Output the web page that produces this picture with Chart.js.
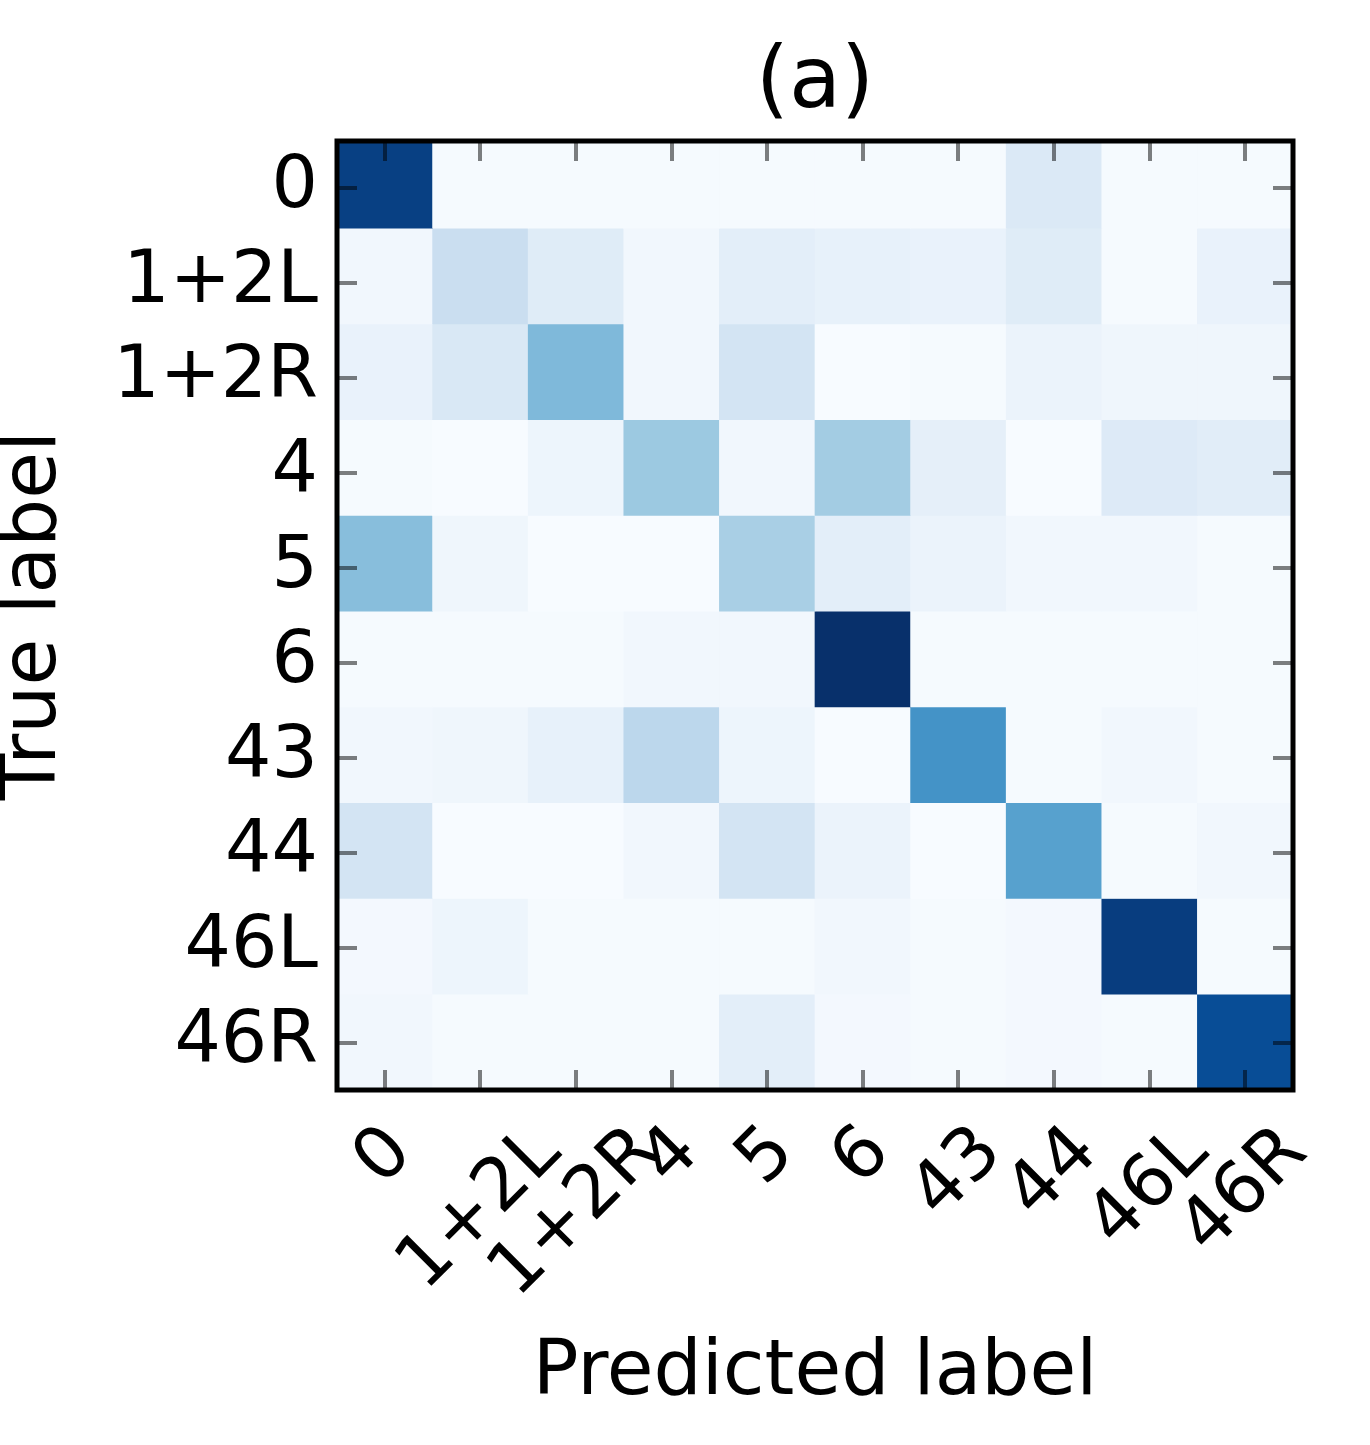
<!DOCTYPE html>
<html>
<head>
<meta charset="utf-8">
<script src="https://cdn.jsdelivr.net/npm/chart.js@4.4.1/dist/chart.umd.min.js"></script>
<style>
  html, body { margin: 0; padding: 0; background: #fff; }
  #wrap { width: 1370px; height: 1445px; position: relative; }
</style>
</head>
<body>
<div id="wrap"><canvas id="cm"></canvas></div>
<script>
// categories
const predLabels = ['0', '1+2L', '1+2R', '4', '5', '6', '43', '44', '46L', '46R'];
const trueLabels = ['0', '1+2L', '1+2R', '4', '5', '6', '43', '44', '46L', '46R'];

// normalised confusion values, one array per true label
const true0   = [0.94, 0.01, 0.01, 0.01, 0.01, 0.01, 0.01, 0.14, 0.01, 0.01];
const true12L = [0.03, 0.23, 0.12, 0.03, 0.10, 0.08, 0.07, 0.12, 0.01, 0.07];
const true12R = [0.07, 0.15, 0.45, 0.03, 0.18, 0.00, 0.01, 0.06, 0.04, 0.04];
const true4   = [0.01, 0.00, 0.05, 0.38, 0.03, 0.36, 0.09, 0.00, 0.13, 0.11];
const true5   = [0.43, 0.04, 0.00, 0.00, 0.34, 0.10, 0.06, 0.03, 0.03, 0.01];
const true6   = [0.01, 0.01, 0.01, 0.03, 0.03, 1.00, 0.01, 0.01, 0.01, 0.01];
const true43  = [0.03, 0.04, 0.08, 0.28, 0.05, 0.00, 0.62, 0.01, 0.03, 0.01];
const true44  = [0.18, 0.00, 0.00, 0.03, 0.18, 0.06, 0.00, 0.56, 0.01, 0.03];
const true46L = [0.02, 0.05, 0.01, 0.01, 0.01, 0.03, 0.01, 0.02, 0.95, 0.01];
const true46R = [0.03, 0.01, 0.01, 0.01, 0.10, 0.02, 0.01, 0.02, 0.01, 0.89];

const rows = [true0, true12L, true12R, true4, true5, true6, true43, true44, true46L, true46R];

// the top row of the image is cut a little by the axes frame in the original
const Y_TOP = 0.09;

// matplotlib "Blues"
const blues = [
  [247, 251, 255], [222, 235, 247], [198, 219, 239], [158, 202, 225], [107, 174, 214],
  [66, 146, 198], [33, 113, 181], [8, 81, 156], [8, 48, 107]
];
function bluesColor(v) {
  v = Math.max(0, Math.min(1, v));
  const p = v * (blues.length - 1);
  const i = Math.min(Math.floor(p), blues.length - 2);
  const t = p - i;
  const c = blues[i].map((a, k) => Math.round(a + (blues[i + 1][k] - a) * t));
  return 'rgb(' + c.join(',') + ')';
}

const FONT = 'DejaVu Sans';
const TICK_SIZE = 73;

// inward ticks on all four sides, the frame, and centred 45 degree x labels
const axesDecor = {
  id: 'axesDecor',
  afterDraw(chart) {
    const {ctx, chartArea: a, scales} = chart;
    const xs = scales.x, ys = scales.y;
    const len = 20;
    ctx.save();
    ctx.strokeStyle = 'rgba(0,0,0,0.5)';
    ctx.lineWidth = 4;
    ctx.beginPath();
    xs.ticks.forEach((t, i) => {
      const px = Math.round(xs.getPixelForTick(i));
      ctx.moveTo(px, a.top); ctx.lineTo(px, a.top + len);
      ctx.moveTo(px, a.bottom); ctx.lineTo(px, a.bottom - len);
    });
    ys.ticks.forEach((t, i) => {
      const py = Math.round(ys.getPixelForTick(i));
      ctx.moveTo(a.left, py); ctx.lineTo(a.left + len, py);
      ctx.moveTo(a.right, py); ctx.lineTo(a.right - len, py);
    });
    ctx.stroke();

    ctx.strokeStyle = '#000';
    ctx.lineWidth = 5;
    ctx.strokeRect(a.left, a.top, a.right - a.left, a.bottom - a.top);

    ctx.fillStyle = '#000';
    ctx.font = TICK_SIZE + 'px "' + FONT + '"';
    ctx.textAlign = 'center';
    ctx.textBaseline = 'middle';
    const h = TICK_SIZE * 0.97;
    predLabels.forEach((lab, i) => {
      const px = xs.getPixelForTick(i);
      const w = ctx.measureText(lab).width;
      const d = (w + h) * Math.SQRT1_2;
      ctx.save();
      ctx.translate(px, a.bottom + 26 + d / 2);
      ctx.rotate(-Math.PI / 4);
      ctx.fillText(lab, 0, 0);
      ctx.restore();
    });
    ctx.restore();
  }
};

new Chart(document.getElementById('cm'), {
  type: 'bar',
  data: {
    labels: predLabels,
    datasets: rows.map((r, i) => ({
      label: trueLabels[i],
      data: predLabels.map(() => 1),
      backgroundColor: r.map(bluesColor),
      borderWidth: 0,
      barPercentage: 1,
      categoryPercentage: 1,
      clip: 0
    }))
  },
  options: {
    responsive: true,
    maintainAspectRatio: false,
    animation: false,
    layout: { padding: { right: 77, left: 0, top: 0, bottom: 0 } },
    plugins: {
      legend: { display: false },
      tooltip: { enabled: false },
      title: {
        display: true,
        text: '(a)',
        fullSize: false,
        color: '#000',
        font: { family: FONT, size: 85, weight: 'normal', lineHeight: 1 },
        padding: { top: 42, bottom: 14 }
      }
    },
    scales: {
      x: {
        stacked: true,
        grid: { display: false, drawTicks: false },
        border: { display: false },
        ticks: { display: false },
        title: {
          display: true,
          text: 'Predicted label',
          color: '#000',
          font: { family: FONT, size: 76, weight: 'normal', lineHeight: 1 },
          padding: { top: 0, bottom: 33 }
        },
        afterFit(scale) { scale.height = 355; }
      },
      y: {
        stacked: true,
        reverse: true,
        min: Y_TOP,
        max: trueLabels.length,
        grid: { display: false, drawTicks: false },
        border: { display: false },
        afterBuildTicks(scale) {
          // ticks spread evenly along the axis, one per true label
          const step = (scale.max - scale.min) / trueLabels.length;
          scale.ticks = trueLabels.map((_, i) => ({ value: scale.min + (i + 0.5) * step }));
        },
        ticks: {
          color: '#000',
          padding: 19,
          font: { family: FONT, size: TICK_SIZE },
          callback: (v, i) => trueLabels[i]
        },
        title: {
          display: true,
          text: 'True label',
          color: '#000',
          font: { family: FONT, size: 76, weight: 'normal', lineHeight: 0.93 },
          padding: { top: 0, bottom: 0 }
        },
        afterFit(scale) { scale.width = 337; }
      }
    }
  },
  plugins: [axesDecor]
});
</script>
</body>
</html>
